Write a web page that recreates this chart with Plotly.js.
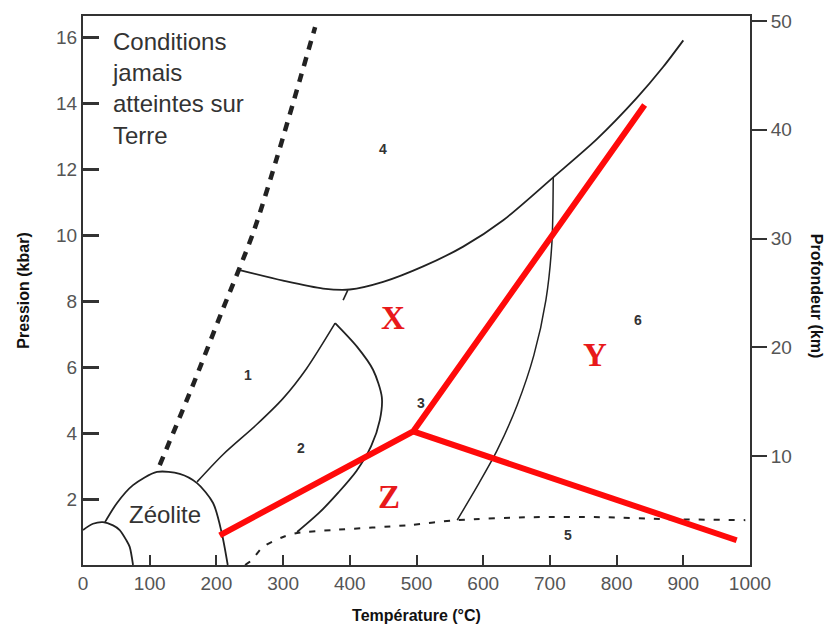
<!DOCTYPE html>
<html>
<head>
<meta charset="utf-8">
<script src="https://cdn.plot.ly/plotly-3.0.1.min.js"></script>
<style>html,body{margin:0;padding:0;background:#fff;}#chart{width:832px;height:630px;}</style>
</head>
<body>
<div id="chart"></div>
<script>
// ---- Data (Température °C, Pression kbar) ----
const tempTicks = [0, 100, 200, 300, 400, 500, 600, 700, 800, 900, 1000];
const pressTicks = [2, 4, 6, 8, 10, 12, 14, 16];
const depthTicks = [10, 20, 30, 40, 50];

// Limit of conditions never reached on Earth (thick dashed)
const limitT = [115, 163, 208, 255, 291, 325, 348];
const limitP = [3.03, 5.36, 7.67, 10.06, 12.36, 14.7, 16.3];

// Small dome at origin
const smallDomeT = [0, 15, 30, 45, 55, 65, 70, 75];
const smallDomeP = [1.06, 1.25, 1.30, 1.20, 1.06, 0.75, 0.55, 0.0];

// Zéolite dome
const zeoliteT = [33, 51, 75, 111, 145, 171, 195, 208, 217];
const zeoliteP = [1.30, 1.88, 2.42, 2.82, 2.76, 2.48, 1.88, 0.97, 0.0];

// Boundary between 1 and 2
const b12T = [171, 210, 260, 300, 335, 378, null, 390, 397];
const b12P = [2.52, 3.35, 4.25, 5.05, 5.95, 7.33, null, 8.03, 8.33];

// Right boundary of zone 2
const b2T = [378, 411, 435, 448, 445, 432, 410, 383, 355, 321];
const b2P = [7.33, 6.61, 5.91, 5.09, 4.39, 3.60, 2.85, 2.20, 1.60, 1.0];

// Upper boundary (zone 4)
const upperT = [235, 300, 360, 400, 450, 510, 570, 630, 705, 770, 830, 870, 900];
const upperP = [8.94, 8.62, 8.38, 8.35, 8.58, 9.05, 9.65, 10.45, 11.75, 12.9, 14.15, 15.1, 15.9];

// Boundary between 3 and 6
const b36T = [705, 703, 694, 676, 651, 621, 592, 561];
const b36P = [11.75, 9.76, 8.03, 6.36, 4.85, 3.48, 2.42, 1.36];

// Thin dashed boundary (zone 5)
const low5T = [243, 253, 270, 300, 321, 375, 490, 561, 675, 775, 876, 993];
const low5P = [0.0, 0.15, 0.55, 0.85, 0.97, 1.06, 1.21, 1.36, 1.45, 1.45, 1.39, 1.36];

// Red lines X / Y / Z
const redT = [205, 495, 842, null, 495, 980];
const redP = [0.9, 4.05, 13.94, null, 4.05, 0.75];

// Labels
const zoneNames = ['1', '2', '3', '4', '5', '6'];
const zoneT = [247, 327, 507, 450, 727, 832];
const zoneP = [5.76, 3.55, 4.9, 12.6, 0.9, 7.42];

const redNames = ['X', 'Y', 'Z'];
const redLabT = [465, 768, 459];
const redLabP = [7.48, 6.36, 2.06];

// ---- Traces ----
const black = '#222';
function line(x, y, w, dash, color) {
  return {x: x, y: y, type: 'scatter', mode: 'lines', hoverinfo: 'skip', showlegend: false,
    line: {color: color || black, width: w, dash: dash || 'solid', shape: 'spline', smoothing: 0.8},
    connectgaps: false};
}
const traces = [
  line(limitT, limitP, 4.5, '9px,8px'),
  line(smallDomeT, smallDomeP, 1.8),
  line(zeoliteT, zeoliteP, 1.8),
  line(b12T, b12P, 1.6),
  line(b2T, b2P, 1.8),
  line(upperT, upperP, 1.8),
  line(b36T, b36P, 1.5),
  line(low5T, low5P, 2, '6px,9px'),
  {x: redT, y: redP, type: 'scatter', mode: 'lines', hoverinfo: 'skip', showlegend: false,
    line: {color: '#ff0a0a', width: 6}, connectgaps: false},
  // depth axis carrier
  {x: [0, 0], y: [0, 50], yaxis: 'y2', type: 'scatter', mode: 'markers', marker: {opacity: 0},
    hoverinfo: 'skip', showlegend: false}
];

const annotations = [];
annotations.push({x: 40, y: 16.35, xref: 'x', yref: 'y', xanchor: 'left', yanchor: 'top', align: 'left',
  showarrow: false, text: 'Conditions<br>jamais<br>atteintes sur<br>Terre',
  font: {family: 'Liberation Sans, Arial, sans-serif', size: 24, color: '#333'}});
annotations.push({x: 123, y: 1.52, xref: 'x', yref: 'y', showarrow: false, text: 'Zéolite',
  font: {family: 'Liberation Sans, Arial, sans-serif', size: 24, color: '#333'}});
zoneNames.forEach((t, i) => annotations.push({x: zoneT[i], y: zoneP[i], xref: 'x', yref: 'y',
  showarrow: false, text: '<b>' + t + '</b>', font: {family: 'Liberation Sans, Arial, sans-serif', size: 14, color: '#333'}}));
redNames.forEach((t, i) => annotations.push({x: redLabT[i], y: redLabP[i], xref: 'x', yref: 'y',
  showarrow: false, text: '<b>' + t + '</b>', font: {family: 'Liberation Serif, Times New Roman, serif', size: 33, color: '#e8191b'}}));

const tickFont = {family: 'Liberation Sans, Arial, sans-serif', size: 19, color: '#555'};
const titleFont = {family: 'Liberation Sans, Arial, sans-serif', size: 16, color: '#111', weight: 'bold'};

// right axis title reads top-to-bottom
annotations.push({xref: 'paper', yref: 'paper', x: 1.115, y: 0.49, showarrow: false, textangle: 90,
  text: 'Profondeur (km)', font: titleFont});

const layout = {
  width: 832, height: 630,
  margin: {l: 83, r: 82, t: 16, b: 65},
  paper_bgcolor: '#fff', plot_bgcolor: '#fff',
  showlegend: false,
  xaxis: {range: [0, 1000], tickvals: tempTicks, ticktext: tempTicks.map(String),
    ticks: 'inside', ticklen: 10, tickwidth: 2, tickcolor: '#333',
    showline: true, linecolor: '#333', linewidth: 2, mirror: true,
    showgrid: false, zeroline: false, tickfont: tickFont,
    title: {text: 'Température (°C)', font: titleFont, standoff: 17}},
  yaxis: {range: [0, 16.64], tickvals: pressTicks, ticktext: pressTicks.map(String),
    ticks: 'inside', ticklen: 16, tickwidth: 3, tickcolor: '#333',
    showline: true, linecolor: '#333', linewidth: 2, mirror: true,
    showgrid: false, zeroline: false, tickfont: tickFont,
    title: {text: 'Pression (kbar)', font: titleFont, standoff: 22}},
  yaxis2: {range: [0, 50.46], overlaying: 'y', side: 'right', anchor: 'x',
    tickvals: depthTicks, ticktext: depthTicks.map(String),
    ticks: 'outside', ticklen: 15, tickwidth: 2, tickcolor: '#333',
    showline: true, linecolor: '#333', linewidth: 2,
    showgrid: false, zeroline: false, tickfont: tickFont},
  annotations: annotations
};

Plotly.newPlot('chart', traces, layout, {displayModeBar: false, staticPlot: true});
</script>
</body>
</html>
